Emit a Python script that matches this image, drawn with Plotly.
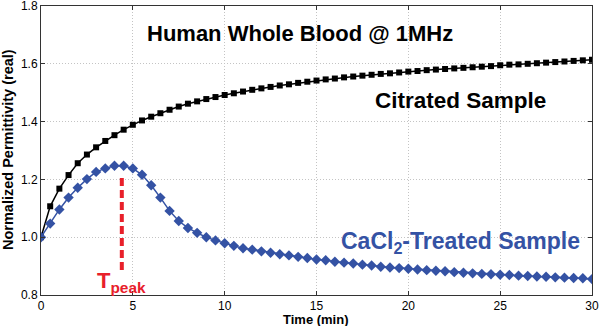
import plotly.graph_objects as go

time_min = [i * 0.5 for i in range(61)]

citrated = [
    1.000, 1.107, 1.168, 1.215, 1.256, 1.286, 1.311, 1.333, 1.353, 1.372,
    1.389, 1.404, 1.417, 1.429, 1.441, 1.452, 1.462, 1.470, 1.478, 1.485,
    1.492, 1.498, 1.504, 1.510, 1.515, 1.520, 1.525, 1.529, 1.534, 1.538,
    1.542, 1.546, 1.549, 1.553, 1.556, 1.559, 1.562, 1.565, 1.567, 1.570,
    1.573, 1.575, 1.578, 1.580, 1.582, 1.584, 1.586, 1.588, 1.590, 1.592,
    1.595, 1.597, 1.598, 1.600, 1.602, 1.604, 1.606, 1.608, 1.610, 1.612,
    1.614,
]

cacl2 = [
    1.000, 1.047, 1.096, 1.137, 1.171, 1.201, 1.226, 1.238, 1.247, 1.247,
    1.238, 1.216, 1.180, 1.137, 1.091, 1.056, 1.032, 1.015, 1.000, 0.989,
    0.979, 0.970, 0.962, 0.957, 0.951, 0.946, 0.941, 0.937, 0.932, 0.928,
    0.923, 0.920, 0.915, 0.912, 0.909, 0.905, 0.902, 0.898, 0.895, 0.893,
    0.891, 0.888, 0.886, 0.884, 0.882, 0.879, 0.877, 0.875, 0.873, 0.872,
    0.870, 0.869, 0.867, 0.866, 0.864, 0.863, 0.861, 0.860, 0.859, 0.858,
    0.855,
]

t_peak = 4.4
t_peak_range = [1.205, 0.886]

x_ticks = [0, 5, 10, 15, 20, 25, 30]
y_ticks = [0.8, 1.0, 1.2, 1.4, 1.6, 1.8]

BLUE = "#3452a4"
RED = "#e8202a"
FONT = "Liberation Sans, Arial, sans-serif"

L, R, T, B = 41, 592, 6, 295  # plot area in pixels

fig = go.Figure()

fig.add_trace(go.Scatter(
    x=[t_peak, t_peak], y=t_peak_range, mode="lines",
    line=dict(color=RED, width=4, dash="8px,4px"),
    hoverinfo="skip", showlegend=False,
))

fig.add_trace(go.Scatter(
    x=time_min, y=citrated, mode="lines+markers",
    line=dict(color="black", width=1.5),
    marker=dict(symbol="square", size=6, color="black"),
    showlegend=False,
))

fig.add_trace(go.Scatter(
    x=time_min, y=cacl2, mode="lines+markers",
    line=dict(color=BLUE, width=1.5),
    marker=dict(symbol="diamond", size=8, color=BLUE),
    showlegend=False,
))

annotations = [
    dict(x=300, y=33, text="<b>Human Whole Blood @ 1MHz</b>",
         font=dict(size=22, color="black")),
    dict(x=460, y=100, text="<b>Citrated Sample</b>",
         font=dict(size=22.5, color="black")),
    dict(x=460, y=242, text="<b>CaCl<sub>2</sub>-Treated Sample</b>",
         font=dict(size=23, color=BLUE)),
    dict(x=121, y=282, text="<b>T<sub>peak</sub></b>",
         font=dict(size=22, color=RED)),
    dict(x=316, y=319, text="<b>Time (min)</b>",
         font=dict(size=13, color="black")),
    dict(x=8, y=150, text="<b>Normalized Permittivity (real)</b>",
         font=dict(size=14.5, color="black"), textangle=-90),
]
for a in annotations:
    a.update(xref="paper", yref="paper", showarrow=False,
             xanchor="center", yanchor="middle")
    a["x"] = (a["x"] - L) / (R - L)
    a["y"] = (B - a["y"]) / (B - T)

fig.update_layout(
    width=600, height=326,
    margin=dict(l=L, r=600 - R, t=T, b=326 - B),
    paper_bgcolor="white", plot_bgcolor="white",
    font=dict(family=FONT, size=12, color="black"),
    annotations=annotations,
    xaxis=dict(
        range=[0, 30], tickvals=x_ticks, ticktext=[str(v) for v in x_ticks],
        showgrid=True, gridcolor="#c4c4c4", griddash="1px,2px", gridwidth=1,
        showline=True, linecolor="#333", linewidth=1, mirror="ticks",
        ticks="inside", ticklen=4, tickcolor="#333",
        zeroline=False, automargin=False, ticklabeloverflow="allow",
        tickfont=dict(size=12),
    ),
    yaxis=dict(
        range=[0.8, 1.8], tickvals=y_ticks, ticktext=[f"{v:.1f}" for v in y_ticks],
        showgrid=True, gridcolor="#c4c4c4", griddash="1px,2px", gridwidth=1,
        showline=True, linecolor="#333", linewidth=1, mirror="ticks",
        ticks="inside", ticklen=4, tickcolor="#333",
        zeroline=False, automargin=False, ticklabeloverflow="allow",
        tickfont=dict(size=12),
    ),
)

fig.write_html(
    "out.html",
    config={"displayModeBar": False},
    post_script="document.body.style.margin='0';document.body.style.overflow='hidden';",
)
